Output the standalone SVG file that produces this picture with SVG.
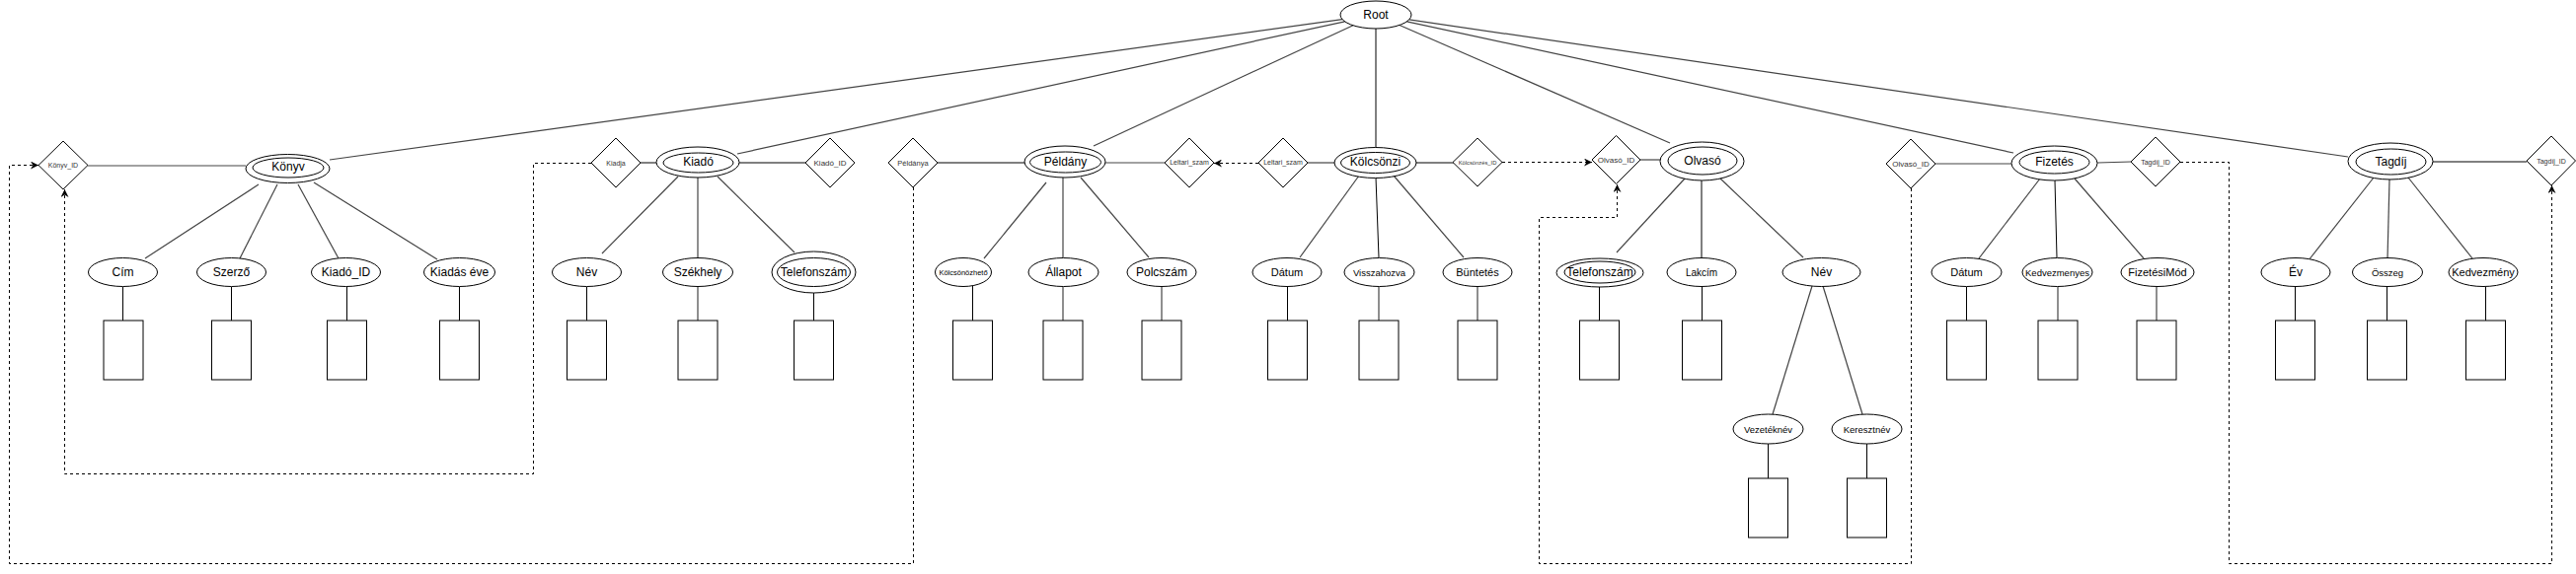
<svg xmlns="http://www.w3.org/2000/svg" width="2610" height="582" viewBox="0 0 2610 582">
<style>
.bg{fill:#fff}
.sh{fill:#fff;stroke:#000;stroke-width:1}
.ln{fill:none;stroke:#000;stroke-width:1}
.gl{fill:none;stroke:#444;stroke-width:1.2}
.ds{fill:none;stroke:#000;stroke-width:1;stroke-dasharray:3 3}
text{font-family:"Liberation Sans",Arial,Helvetica,sans-serif;text-anchor:middle;dominant-baseline:central;fill:#000}
.t12{font-size:12px}
.t11{font-size:11px}
.t10{font-size:10px}
.t9{font-size:9.5px}
.t8{font-size:7.5px}
.dt{font-size:7px;fill:#333}
.dt8{font-size:8px;fill:#333}
.dt6{font-size:5.8px;fill:#333}
</style>
<defs>
<marker id="arr" viewBox="0 0 10 10" refX="10" refY="5" markerWidth="8" markerHeight="8" orient="auto" markerUnits="userSpaceOnUse">
<path d="M0,0 L10,5 L0,10 L3,5 z" fill="#000"/>
</marker>
</defs>
<rect class="bg" x="0" y="0" width="2610" height="582"/>

<g id="connectors">
<!-- root lines -->
<line class="gl" x1="1360" y1="19.7" x2="334" y2="162"/>
<line class="gl" x1="1362.6" y1="21.8" x2="747" y2="156"/>
<line class="gl" x1="1370.9" y1="25.7" x2="1108" y2="148"/>
<line class="ln" x1="1394" y1="29" x2="1394" y2="150"/>
<line class="gl" x1="1418" y1="25.5" x2="1692" y2="145"/>
<line class="gl" x1="1425.4" y1="21.8" x2="2040" y2="155"/>
<line class="gl" x1="1427.7" y1="19.9" x2="2379" y2="159"/>
<!-- horizontal relations -->
<line class="gl" x1="89" y1="168" x2="249" y2="168"/>
<line class="ln" x1="649" y1="165" x2="665" y2="165"/>
<line class="ln" x1="749" y1="165" x2="816" y2="165"/>
<line class="ln" x1="950" y1="165" x2="1038" y2="165"/>
<line class="gl" x1="1120" y1="165" x2="1180" y2="165"/>
<line class="gl" x1="1325" y1="165" x2="1352" y2="165"/>
<line class="ln" x1="1435" y1="165" x2="1473" y2="165"/>
<line class="gl" x1="1662" y1="162" x2="1682" y2="162"/>
<line class="gl" x1="1961" y1="166" x2="2038" y2="166"/>
<line class="gl" x1="2125" y1="165" x2="2159" y2="164"/>
<line class="ln" x1="2465" y1="164" x2="2560" y2="164"/>
<!-- entity to attribute -->
<line class="gl" x1="147" y1="262" x2="262" y2="187"/>
<line class="gl" x1="243" y1="262" x2="281" y2="187"/>
<line class="gl" x1="343" y1="262" x2="302" y2="187"/>
<line class="gl" x1="443" y1="263" x2="318" y2="185"/>
<line class="gl" x1="610" y1="257" x2="687" y2="179"/>
<line class="gl" x1="707" y1="261" x2="707" y2="180"/>
<line class="gl" x1="805" y1="256" x2="727" y2="179"/>
<line class="gl" x1="997" y1="262" x2="1060" y2="185"/>
<line class="gl" x1="1077" y1="261" x2="1077" y2="180"/>
<line class="gl" x1="1164" y1="261" x2="1095" y2="180"/>
<line class="gl" x1="1317" y1="261" x2="1377" y2="178"/>
<line class="ln" x1="1397" y1="261" x2="1394" y2="180"/>
<line class="gl" x1="1483" y1="261" x2="1412" y2="178"/>
<line class="gl" x1="1638" y1="256" x2="1707" y2="181"/>
<line class="ln" x1="1724" y1="261" x2="1724" y2="183"/>
<line class="gl" x1="1827" y1="261" x2="1743" y2="181"/>
<line class="gl" x1="1836" y1="290" x2="1796" y2="420"/>
<line class="gl" x1="1847" y1="290" x2="1887" y2="420"/>
<line class="gl" x1="2005" y1="262" x2="2067" y2="181"/>
<line class="ln" x1="2084" y1="261" x2="2082" y2="183"/>
<line class="gl" x1="2172" y1="262" x2="2102" y2="181"/>
<line class="gl" x1="2339" y1="264" x2="2405" y2="180"/>
<line class="gl" x1="2419" y1="263" x2="2421" y2="182"/>
<line class="gl" x1="2505" y1="262" x2="2440" y2="180"/>
<!-- attribute to value boxes -->
<line class="ln" x1="124.5" y1="291" x2="124.5" y2="325"/>
<line class="ln" x1="234.5" y1="291" x2="234.5" y2="325"/>
<line class="ln" x1="351.5" y1="291" x2="351.5" y2="325"/>
<line class="ln" x1="465.5" y1="291" x2="465.5" y2="325"/>
<line class="ln" x1="594.5" y1="291" x2="594.5" y2="325"/>
<line class="gl" x1="707" y1="291" x2="707" y2="325"/>
<line class="ln" x1="824.5" y1="297" x2="824.5" y2="325"/>
<line class="ln" x1="985.5" y1="290" x2="985.5" y2="325"/>
<line class="gl" x1="1077" y1="291" x2="1077" y2="325"/>
<line class="gl" x1="1177" y1="291" x2="1177" y2="325"/>
<line class="ln" x1="1304.5" y1="291" x2="1304.5" y2="325"/>
<line class="gl" x1="1397" y1="291" x2="1397" y2="325"/>
<line class="gl" x1="1497" y1="291" x2="1497" y2="325"/>
<line class="ln" x1="1620.5" y1="291" x2="1620.5" y2="325"/>
<line class="ln" x1="1724.5" y1="291" x2="1724.5" y2="325"/>
<line class="ln" x1="1791.5" y1="450" x2="1791.5" y2="485"/>
<line class="ln" x1="1891.5" y1="450" x2="1891.5" y2="485"/>
<line class="ln" x1="1992.5" y1="291" x2="1992.5" y2="325"/>
<line class="gl" x1="2085" y1="291" x2="2085" y2="325"/>
<line class="gl" x1="2185" y1="291" x2="2185" y2="325"/>
<line class="ln" x1="2325.5" y1="291" x2="2325.5" y2="325"/>
<line class="ln" x1="2418.5" y1="291" x2="2418.5" y2="325"/>
<line class="ln" x1="2518.5" y1="291" x2="2518.5" y2="325"/>
<!-- dashed references -->
<path class="ds" d="M599,165.5 H540.5 V480.5 H65.5 V192" marker-end="url(#arr)"/>
<path class="ds" d="M925.5,190 V571.5 H9.5 V167.5 H39" marker-end="url(#arr)"/>
<path class="ds" d="M1275,165.5 H1230" marker-end="url(#arr)"/>
<path class="ds" d="M1522,164.5 H1613" marker-end="url(#arr)"/>
<path class="ds" d="M1936.5,191 V571.5 H1559.5 V220.5 H1638.5 V187" marker-end="url(#arr)"/>
<path class="ds" d="M2209,164.5 H2258.5 V571.5 H2585.5 V188" marker-end="url(#arr)"/>
</g>

<g id="root"><ellipse class="sh" cx="1394" cy="15" rx="36" ry="14"/><text class="t12" x="1394" y="15">Root</text></g>

<g id="konyv-id"><polygon class="sh" points="64,143 89,167.5 64,192 39,167.5"/><text class="dt" x="64" y="167.5">Könyv_ID</text></g>
<g id="konyv"><ellipse class="sh" cx="291.5" cy="171" rx="42.5" ry="14.5"/><ellipse class="sh" cx="292" cy="170" rx="36" ry="10"/><text class="t12" x="292" y="169">Könyv</text></g>
<g id="konyv-cim"><ellipse class="sh" cx="124.5" cy="276" rx="35" ry="14.5"/><text class="t12" x="124.5" y="276">Cím</text></g>
<g id="konyv-szerzo"><ellipse class="sh" cx="234.5" cy="276" rx="35" ry="14.5"/><text class="t12" x="234.5" y="276">Szerző</text></g>
<g id="konyv-kiadoid"><ellipse class="sh" cx="350.5" cy="276" rx="35" ry="14.5"/><text class="t12" x="350.5" y="276">Kiadó_ID</text></g>
<g id="konyv-kiadaseve"><ellipse class="sh" cx="465.5" cy="276" rx="36" ry="14.5"/><text class="t12" x="465.5" y="276">Kiadás éve</text></g>
<g id="box-cim"><rect class="sh" x="105" y="325" width="40" height="60"/></g>
<g id="box-szerzo"><rect class="sh" x="214.5" y="325" width="40" height="60"/></g>
<g id="box-kiadoid"><rect class="sh" x="331.5" y="325" width="40" height="60"/></g>
<g id="box-kiadaseve"><rect class="sh" x="445.5" y="325" width="40" height="60"/></g>

<g id="kiadja"><polygon class="sh" points="624,140 649,165 624,190 599,165"/><text class="dt" x="624" y="165">Kiadja</text></g>
<g id="kiado"><ellipse class="sh" cx="707" cy="164.5" rx="42" ry="15.5"/><ellipse class="sh" cx="707.5" cy="165" rx="35.5" ry="10"/><text class="t12" x="707.5" y="164">Kiadó</text></g>
<g id="kiado-id"><polygon class="sh" points="841,140 866,165 841,190 816,165"/><text class="dt8" x="841" y="165">Kiadó_ID</text></g>
<g id="kiado-nev"><ellipse class="sh" cx="594.5" cy="276" rx="35" ry="14.5"/><text class="t12" x="594.5" y="276">Név</text></g>
<g id="kiado-szekhely"><ellipse class="sh" cx="707" cy="276" rx="35.5" ry="14.5"/><text class="t12" x="707" y="276">Székhely</text></g>
<g id="kiado-telefon"><ellipse class="sh" cx="824.5" cy="276" rx="42.5" ry="21"/><ellipse class="sh" cx="824.5" cy="276" rx="37" ry="14.5"/><text class="t12" x="824.5" y="276">Telefonszám</text></g>
<g id="box-kiado-nev"><rect class="sh" x="574.5" y="325" width="40" height="60"/></g>
<g id="box-kiado-szekhely"><rect class="sh" x="687" y="325" width="40" height="60"/></g>
<g id="box-kiado-telefon"><rect class="sh" x="804.5" y="325" width="40" height="60"/></g>

<g id="peldanya"><polygon class="sh" points="925,140 950,165 925,190 900,165"/><text class="t8" x="925" y="165" style="fill:#333">Példánya</text></g>
<g id="peldany"><ellipse class="sh" cx="1079" cy="164" rx="41" ry="16"/><ellipse class="sh" cx="1079.5" cy="164.5" rx="36" ry="10.5"/><text class="t12" x="1079.5" y="164">Példány</text></g>
<g id="leltari-1"><polygon class="sh" points="1205,140 1230,165 1205,190 1180,165"/><text class="dt" x="1205" y="164">Leltari_szam</text></g>
<g id="peldany-kolcsonozheto"><ellipse class="sh" cx="976" cy="276" rx="28.5" ry="14.5"/><text class="t8" x="976" y="276">Kölcsönözhető</text></g>
<g id="peldany-allapot"><ellipse class="sh" cx="1077.5" cy="276" rx="35.5" ry="14.5"/><text class="t12" x="1077.5" y="276">Állapot</text></g>
<g id="peldany-polcszam"><ellipse class="sh" cx="1177" cy="276" rx="35" ry="14.5"/><text class="t12" x="1177" y="276">Polcszám</text></g>
<g id="box-kolcsonozheto"><rect class="sh" x="965.5" y="325" width="40" height="60"/></g>
<g id="box-allapot"><rect class="sh" x="1057" y="325" width="40" height="60"/></g>
<g id="box-polcszam"><rect class="sh" x="1157" y="325" width="40" height="60"/></g>

<g id="leltari-2"><polygon class="sh" points="1300,140 1325,165 1300,190 1275,165"/><text class="dt" x="1300" y="164">Leltari_szam</text></g>
<g id="kolcsonzi"><ellipse class="sh" cx="1393.5" cy="165" rx="41.5" ry="15.5"/><ellipse class="sh" cx="1393.5" cy="165" rx="35" ry="10.5"/><text class="t12" x="1393.5" y="164">Kölcsönzi</text></g>
<g id="kolcsonzes-id"><polygon class="sh" points="1497,140 1522,164.5 1497,189 1472,164.5"/><text class="dt6" x="1497" y="164.5">Kölcsönzés_ID</text></g>
<g id="kolcsonzi-datum"><ellipse class="sh" cx="1304" cy="276" rx="35" ry="14.5"/><text class="t11" x="1304" y="276">Dátum</text></g>
<g id="kolcsonzi-visszahozva"><ellipse class="sh" cx="1397.5" cy="276" rx="35.5" ry="14.5"/><text class="t9" x="1397.5" y="276">Visszahozva</text></g>
<g id="kolcsonzi-buntetes"><ellipse class="sh" cx="1497" cy="276" rx="35" ry="14.5"/><text class="t11" x="1497" y="276">Büntetés</text></g>
<g id="box-datum-k"><rect class="sh" x="1284.5" y="325" width="40" height="60"/></g>
<g id="box-visszahozva"><rect class="sh" x="1377" y="325" width="40" height="60"/></g>
<g id="box-buntetes"><rect class="sh" x="1477" y="325" width="40" height="60"/></g>

<g id="olvaso-id-1"><polygon class="sh" points="1637.5,137.5 1662,162 1637.5,186.5 1613,162"/><text class="dt8" x="1637.5" y="162">Olvasó_ID</text></g>
<g id="olvaso"><ellipse class="sh" cx="1724.5" cy="163.5" rx="42.5" ry="19.5"/><ellipse class="sh" cx="1725" cy="163" rx="35" ry="14"/><text class="t12" x="1725" y="162.5">Olvasó</text></g>
<g id="olvaso-telefon"><ellipse class="sh" cx="1621" cy="276.5" rx="44" ry="14.5"/><ellipse class="sh" cx="1621" cy="276" rx="36" ry="11"/><text class="t12" x="1621" y="276">Telefonszám</text></g>
<g id="olvaso-lakcim"><ellipse class="sh" cx="1724" cy="276" rx="35" ry="14.5"/><text class="t10" x="1724" y="276">Lakcím</text></g>
<g id="olvaso-nev"><ellipse class="sh" cx="1845.5" cy="276" rx="39.5" ry="14.5"/><text class="t12" x="1845.5" y="276">Név</text></g>
<g id="olvaso-vezeteknev"><ellipse class="sh" cx="1791.5" cy="435" rx="35.5" ry="15"/><text class="t9" x="1791.5" y="435">Vezetéknév</text></g>
<g id="olvaso-keresztnev"><ellipse class="sh" cx="1891.5" cy="435" rx="35.5" ry="15"/><text class="t9" x="1891.5" y="435">Keresztnév</text></g>
<g id="box-olvaso-telefon"><rect class="sh" x="1600.5" y="325" width="40" height="60"/></g>
<g id="box-lakcim"><rect class="sh" x="1704.5" y="325" width="40" height="60"/></g>
<g id="box-vezeteknev"><rect class="sh" x="1771.5" y="485" width="40" height="60"/></g>
<g id="box-keresztnev"><rect class="sh" x="1871.5" y="485" width="40" height="60"/></g>

<g id="olvaso-id-2"><polygon class="sh" points="1936,141 1961,166 1936,191 1911,166"/><text class="dt8" x="1936" y="166">Olvasó_ID</text></g>
<g id="fizetes"><ellipse class="sh" cx="2081.5" cy="165.5" rx="43.5" ry="17.5"/><ellipse class="sh" cx="2081.5" cy="164.5" rx="35.5" ry="11.5"/><text class="t12" x="2081.5" y="164">Fizetés</text></g>
<g id="tagdij-id-1"><polygon class="sh" points="2184,139 2209,164 2184,189 2159,164"/><text class="dt" x="2184" y="164">Tagdíj_ID</text></g>
<g id="fizetes-datum"><ellipse class="sh" cx="1992.5" cy="276" rx="35.5" ry="14.5"/><text class="t11" x="1992.5" y="276">Dátum</text></g>
<g id="fizetes-kedvezmenyes"><ellipse class="sh" cx="2084.5" cy="276" rx="35.5" ry="14.5"/><text class="t9" x="2084.5" y="276">Kedvezmenyes</text></g>
<g id="fizetes-mod"><ellipse class="sh" cx="2186" cy="276" rx="37" ry="14.5"/><text class="t11" x="2186" y="276">FizetésiMód</text></g>
<g id="box-fizetes-datum"><rect class="sh" x="1972.5" y="325" width="40" height="60"/></g>
<g id="box-kedvezmenyes"><rect class="sh" x="2065" y="325" width="40" height="60"/></g>
<g id="box-fizetesimod"><rect class="sh" x="2165" y="325" width="40" height="60"/></g>

<g id="tagdij"><ellipse class="sh" cx="2422" cy="163.5" rx="43" ry="18.5"/><ellipse class="sh" cx="2422.5" cy="164" rx="35.5" ry="13"/><text class="t12" x="2422.5" y="163.5">Tagdíj</text></g>
<g id="tagdij-id-2"><polygon class="sh" points="2585,138 2609.5,163 2585,188 2560,163"/><text class="dt" x="2585" y="163">Tagdíj_ID</text></g>
<g id="tagdij-ev"><ellipse class="sh" cx="2326" cy="276" rx="35" ry="14.5"/><text class="t12" x="2326" y="276">Év</text></g>
<g id="tagdij-osszeg"><ellipse class="sh" cx="2419" cy="276" rx="35.5" ry="14.5"/><text class="t9" x="2419" y="276">Összeg</text></g>
<g id="tagdij-kedvezmeny"><ellipse class="sh" cx="2516" cy="276" rx="35" ry="14.5"/><text class="t11" x="2516" y="276">Kedvezmény</text></g>
<g id="box-ev"><rect class="sh" x="2305.5" y="325" width="40" height="60"/></g>
<g id="box-osszeg"><rect class="sh" x="2398.5" y="325" width="40" height="60"/></g>
<g id="box-kedvezmeny"><rect class="sh" x="2498.5" y="325" width="40" height="60"/></g>
</svg>
